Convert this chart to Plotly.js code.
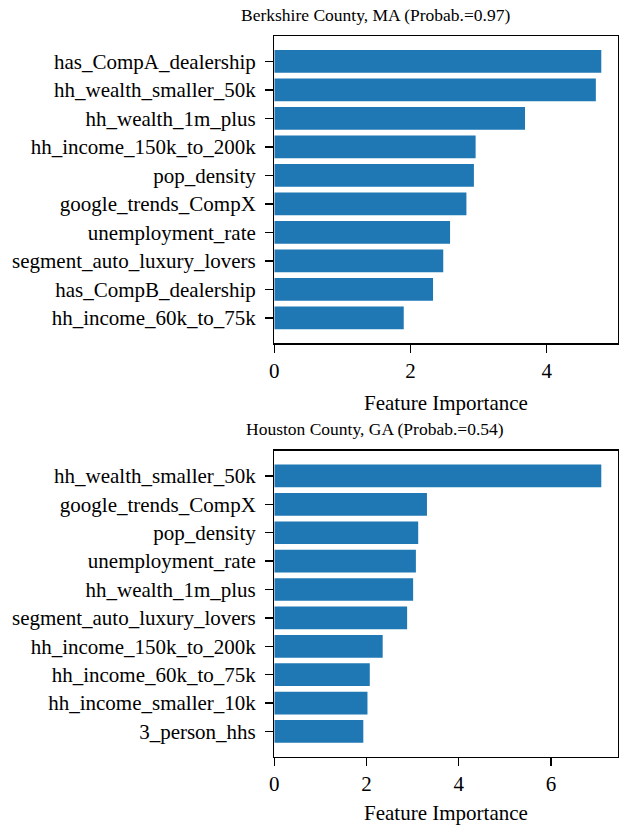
<!DOCTYPE html>
<html>
<head>
<meta charset="utf-8">
<script src="https://cdn.plot.ly/plotly-3.0.1.min.js"></script>
<style>html,body{margin:0;padding:0;background:#fff;}#chart{width:622px;height:825px;}</style>
</head>
<body>
<div id="chart"></div>
<script>
// Top panel: Berkshire County, MA
const topTitle = "Berkshire County, MA (Probab.=0.97)";
const topFeatures = ["has_CompA_dealership", "hh_wealth_smaller_50k", "hh_wealth_1m_plus", "hh_income_150k_to_200k", "pop_density", "google_trends_CompX", "unemployment_rate", "segment_auto_luxury_lovers", "has_CompB_dealership", "hh_income_60k_to_75k"];
const topValues = [4.80, 4.72, 3.68, 2.955, 2.93, 2.82, 2.58, 2.48, 2.33, 1.90];

// Bottom panel: Houston County, GA
const botTitle = "Houston County, GA (Probab.=0.54)";
const botFeatures = ["hh_wealth_smaller_50k", "google_trends_CompX", "pop_density", "unemployment_rate", "hh_wealth_1m_plus", "segment_auto_luxury_lovers", "hh_income_150k_to_200k", "hh_income_60k_to_75k", "hh_income_smaller_10k", "3_person_hhs"];
const botValues = [7.09, 3.31, 3.12, 3.07, 3.01, 2.88, 2.35, 2.07, 2.02, 1.93];

const xTitle = "Feature Importance";
const topTicks = [0, 2, 4];
const botTicks = [0, 2, 4, 6];

const FONT = "'Liberation Serif', 'Times New Roman', Times, serif";
const barColor = "#1f77b4";

function padMax(vals){ return Math.max(...vals) * 1.05; }

const traces = [
  {type: "bar", orientation: "h", x: topValues, y: topFeatures, xaxis: "x", yaxis: "y",
   marker: {color: barColor}, width: 0.8, hoverinfo: "x+y"},
  {type: "bar", orientation: "h", x: botValues, y: botFeatures, xaxis: "x2", yaxis: "y2",
   marker: {color: barColor}, width: 0.8, hoverinfo: "x+y"}
];

const axisCommon = {
  showline: true, linecolor: "#000", linewidth: 1.3, mirror: true,
  showgrid: false, zeroline: false,
  ticks: "outside", ticklen: 8, tickwidth: 1.3, tickcolor: "#000",
  tickfont: {family: FONT, size: 21, color: "#000"}
};

const layout = {
  width: 622, height: 825,
  margin: {l: 0, r: 0, t: 0, b: 0},
  paper_bgcolor: "#fff", plot_bgcolor: "#fff",
  showlegend: false,
  font: {family: FONT, color: "#000"},
  xaxis: Object.assign({}, axisCommon, {
    domain: [0.441, 0.993], range: [0, padMax(topValues)], anchor: "y",
    tickvals: topTicks, ticktext: topTicks.map(String),
    title: {text: xTitle, font: {family: FONT, size: 21, color: "#000"}, standoff: 13}
  }),
  yaxis: Object.assign({}, axisCommon, {
    domain: [0.5839, 0.9564], anchor: "x", type: "category",
    categoryorder: "array", categoryarray: topFeatures,
    range: [9.89, -0.89], ticklabelstandoff: 5
  }),
  xaxis2: Object.assign({}, axisCommon, {
    domain: [0.441, 0.993], range: [0, padMax(botValues)], anchor: "y2",
    tickvals: botTicks, ticktext: botTicks.map(String),
    title: {text: xTitle, font: {family: FONT, size: 21, color: "#000"}, standoff: 13}
  }),
  yaxis2: Object.assign({}, axisCommon, {
    domain: [0.0828, 0.4537], anchor: "x2", type: "category",
    categoryorder: "array", categoryarray: botFeatures,
    range: [9.89, -0.89], ticklabelstandoff: 5
  }),
  annotations: [
    {text: topTitle, xref: "paper", yref: "paper", x: 0.603, y: 0.982,
     xanchor: "center", yanchor: "middle", showarrow: false,
     font: {family: FONT, size: 17.5, color: "#000"}},
    {text: botTitle, xref: "paper", yref: "paper", x: 0.603, y: 0.4806,
     xanchor: "center", yanchor: "middle", showarrow: false,
     font: {family: FONT, size: 17.5, color: "#000"}}
  ]
};

Plotly.newPlot("chart", traces, layout, {displayModeBar: false, staticPlot: true});
</script>
</body>
</html>
